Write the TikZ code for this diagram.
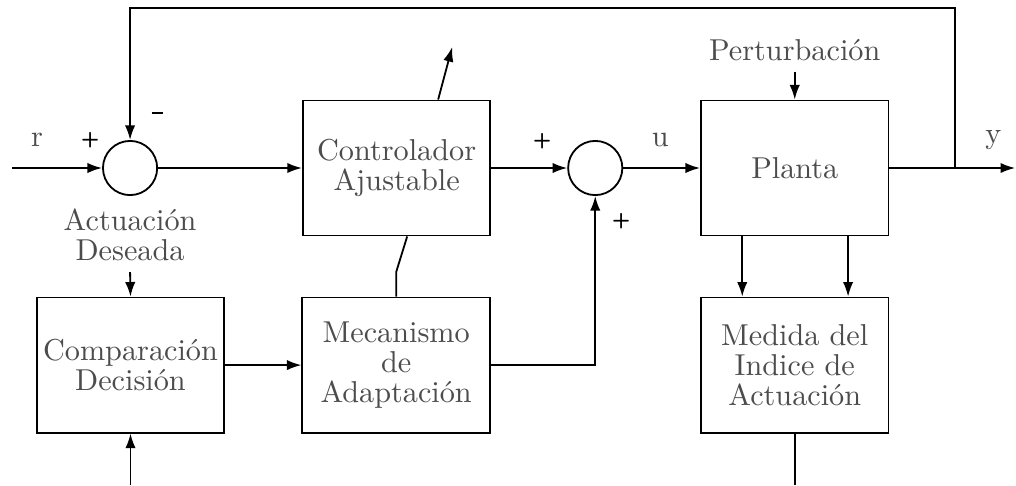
\documentclass[tikz,border=0pt]{standalone}
\usetikzlibrary{arrows.meta, positioning, calc}

\begin{document}
\begin{tikzpicture}[>={Latex[length=1.7mm,width=1.2mm]}, semithick,
    font={\fontsize{10}{10}\selectfont}, every node/.style={text=black!70},
    bloque/.style={draw, minimum width=2.18cm, minimum height=1.57cm, align=center, inner sep=1pt},
    suma/.style={draw, circle, minimum size=0.63cm, inner sep=0pt},
    signo/.style={text=black, font=\sffamily\bfseries\scriptsize}]
    \useasboundingbox (0,0) rectangle (11.81,-5.64);

    % bloques
    \node[suma] (suma1) at (1.512,-1.953) {};
    \node[bloque] (controlador) at (4.61,-1.953) {Controlador\\Ajustable};
    \node[suma] (suma2) at (6.919,-1.953) {};
    \node[bloque] (planta) at (9.238,-1.953) {Planta};
    \node[bloque] (comparacion) at (1.517,-4.244) {Comparación\\Decisión};
    \node[bloque] (mecanismo) at (4.605,-4.244) {Mecanismo\\de\\Adaptación};
    \node[bloque] (medida) at (9.238,-4.244) {Medida del\\Indice de\\Actuación};

    % etiquetas
    \node[align=center] (actuacion) at (1.512,-2.733) {Actuación\\Deseada};
    \node (perturbacion) at (9.238,-0.581) {Perturbación};
    \node (r) at (0.43,-1.628) {r};
    \node (u) at (7.674,-1.628) {u};
    \node (y) at (11.547,-1.628) {y};
    \node[signo] (mas1) at (1.047,-1.628) {+};
    \node[signo] (menos1) at (1.826,-1.314) {\rule{3.6pt}{0.8pt}};
    \node[signo] (mas2) at (6.302,-1.64) {+};
    \node[signo] (mas3) at (7.221,-2.57) {+};

    \coordinate (entrada) at (0.14,-1.953);
    \coordinate (salida) at (11.80,-1.953);
    \coordinate (ramal) at (11.105,-1.953);
    \coordinate (arriba) at (11.105,-0.093);
    \coordinate (ajuste) at (5.256,-0.547);
    \coordinate (quiebre) at (4.605,-3.163);
    \coordinate (abajo1) at (1.517,-5.64);
    \coordinate (abajo2) at (9.238,-5.64);

    % lazo principal
    \draw[->] (entrada) -- (suma1.west);
    \draw[->] (suma1.east) -- (controlador.west);
    \draw[->] (controlador.east) -- (suma2.west);
    \draw[->] (suma2.east) -- (planta.west);
    \draw[->] (planta.east) -- (salida);
    \draw[->] (ramal) -- (arriba) -| (suma1.north);
    \draw[->] (perturbacion) -- (planta.north);

    % lazo de adaptacion
    \draw[->] ($(controlador.north)+(0.483,0)$) -- (ajuste);
    \draw ($(controlador.south)+(0.123,0)$) -- (quiebre) -- (mecanismo.north);
    \draw[->] (mecanismo.east) -| (suma2.south);
    \draw[->] (comparacion) -- (mecanismo);
    \draw[->] (actuacion.south) -- (comparacion.north);
    \draw[->] (abajo1) -- (comparacion.south);
    \draw[->] ($(planta.south)+(-0.61,0)$) -- ($(medida.north)+(-0.61,0)$);
    \draw[->] ($(planta.south)+(0.62,0)$) -- ($(medida.north)+(0.62,0)$);
    \draw (medida.south) -- (abajo2);

\end{tikzpicture}
\end{document}
